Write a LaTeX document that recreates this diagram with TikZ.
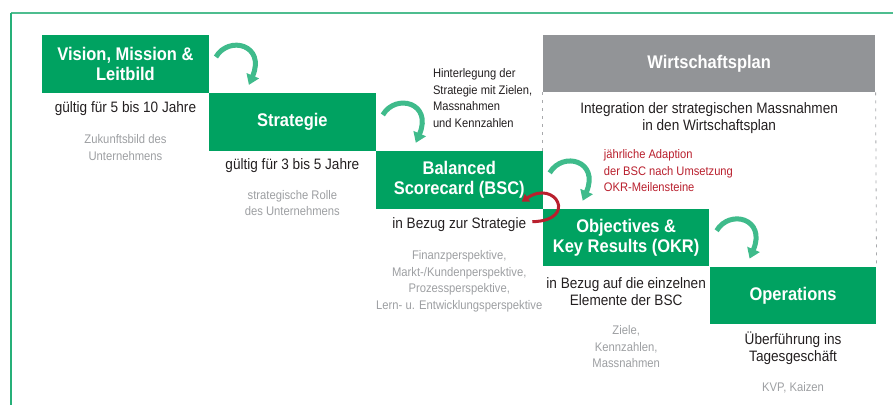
\documentclass[tikz,border=0pt]{standalone}
\usepackage{fontspec}
\setmainfont{Liberation Sans}[FakeStretch=0.9]
\usepackage{tikz}
\usetikzlibrary{arrows.meta,positioning,calc}
\definecolor{clStep}{HTML}{00A261}
\definecolor{clPlan}{HTML}{929497}
\definecolor{clTurn}{HTML}{3FBB8B}
\definecolor{clAdapt}{HTML}{B9202E}
\definecolor{clNote}{HTML}{231F20}
\definecolor{clHint}{HTML}{9D9FA2}
\definecolor{clFrame}{HTML}{4EBD8F}
\tikzset{
  stepbox/.style={rectangle, fill=clStep, text=white, align=center, inner sep=0pt,
                  minimum width=166.5pt, minimum height=57.5pt,
                  font=\fontsize{18.3}{20.5}\selectfont\bfseries},
  planbox/.style={stepbox, fill=clPlan, minimum width=332.5pt, minimum height=57pt},
  note/.style={align=center, inner sep=0pt, text=clNote, font=\fontsize{15.1}{17}\selectfont},
  hint/.style={align=center, inner sep=0pt, text=clHint, font=\fontsize{12.5}{16.5}\selectfont},
  side/.style={align=left, inner sep=0pt, text=clNote, font=\fontsize{12.4}{16.5}\selectfont},
  adapt/.style={side, text=clAdapt},
  turn/.style={-{Triangle[width=13pt,length=10pt]}, line width=5pt, draw=clTurn},
  back/.style={-{Triangle[width=9pt,length=7pt]}, line width=3pt, draw=clAdapt},
  planedge/.style={draw=clPlan!80, line width=0.8pt, dash pattern=on 3pt off 5pt},
}

\begin{document}
\begin{tikzpicture}[x=1pt, y=-1pt]
  \useasboundingbox (0,0) rectangle (893,405);
  \draw[clFrame, line width=1.8pt] (11,13) -- (893,13);
  \draw[clStep!85, line width=1.8pt] (11,13) -- (11,405);

  \node[stepbox, anchor=north west] (vision) at (42,35) {Vision, Mission \&\\Leitbild};
  \node[stepbox, anchor=north west] (strategie) at (vision.south east) {Strategie};
  \node[stepbox, anchor=north west] (bsc) at (strategie.south east) {Balanced\\Scorecard (BSC)};
  \node[stepbox, anchor=north west] (okr) at (bsc.south east) {Objectives \&\\Key Results (OKR)};
  \node[stepbox, anchor=north west] (ops) at (okr.south east) {Operations};
  \node[planbox, anchor=north west] (plan) at (vision.north -| bsc.east) {Wirtschaftsplan};

  \node[note] (visionnote) at ([yshift=-16pt]vision.south) {gültig für 5 bis 10 Jahre};
  \node[hint] (visionhint) at ([yshift=-54.5pt]vision.south) {Zukunftsbild des\\Unternehmens};
  \node[note] (stratnote) at ([yshift=-15pt]strategie.south) {gültig für 3 bis 5 Jahre};
  \node[hint] (strathint) at ([yshift=-52pt]strategie.south) {strategische Rolle\\des Unternehmens};
  \node[note] (bscnote) at ([yshift=-16pt]bsc.south) {in Bezug zur Strategie};
  \node[hint] (bschint) at ([yshift=-72.5pt]bsc.south) {Finanzperspektive,\\Markt-/Kundenperspektive,\\Prozessperspektive,\\Lern- u. Entwicklungsperspektive};
  \node[note] (okrnote) at ([yshift=-24.5pt]okr.south) {in Bezug auf die einzelnen\\Elemente der BSC};
  \node[hint] (okrhint) at ([yshift=-80pt]okr.south) {Ziele,\\Kennzahlen,\\Massnahmen};
  \node[note] (opsnote) at ([yshift=-23.5pt]ops.south) {Überführung ins\\Tagesgeschäft};
  \node[hint] (opshint) at ([yshift=-63pt]ops.south) {KVP, Kaizen};

  \node[side, anchor=west] (deposit) at ([shift={(57,5)}]strategie.north east)
    {Hinterlegung der\\Strategie mit Zielen,\\Massnahmen\\und Kennzahlen};
  \node[note] (integration) at ([yshift=-25.5pt]plan.south)
    {Integration der strategischen Massnahmen\\in den Wirtschaftsplan};
  \node[adapt, anchor=west] (adaption) at ([shift={(61,-38)}]okr.north west)
    {jährliche Adaption\\der BSC nach Umsetzung\\OKR-Meilensteine};

  \draw[planedge] (plan.south west) -- (bsc.north east);
  \draw[planedge] (plan.south east) -- (ops.north east);

  % step-down arrows between the stages
  \foreach \a/\b in {vision/strategie, strategie/bsc, bsc/okr, okr/ops}
    \draw[turn] ([shift={(7,22)}]\a.north east) .. controls +(13,-22) and +(17,-40)
      .. ([shift={(40,-8)}]\b.north west);
  \draw[back] ([shift={(6,-3)}]bscnote.east) .. controls +(46,-1) and +(34,-23)
    .. ([shift={(-21,-7)}]bsc.south east);
\end{tikzpicture}
\end{document}
